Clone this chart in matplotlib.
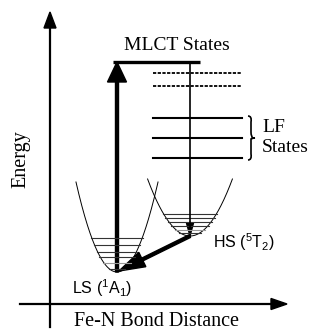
import numpy as np
import matplotlib
matplotlib.use("Agg")
import matplotlib.pyplot as plt
from matplotlib.path import Path
from matplotlib.patches import PathPatch

# everything in pixel coordinates of the 313x330 picture (y grows downwards)
mlct_y = 62
mlct_x = [113, 200]
dashed_y = [73, 86]
lf_y = [118, 138, 158]
state_x = [153, 242]

ls_min = [117, 272]
ls_curv = 0.0535
ls_top = 182
ls_vib = [238, 245, 252, 257, 263, 269]

hs_min = [190, 236]
hs_curv = 0.0317
hs_top = 179
hs_vib = [214, 218, 222, 226, 230, 233]

axis_origin = [50, 304]

fig = plt.figure(figsize=(3.13, 3.30), dpi=100)
ax = fig.add_axes([0, 0, 1, 1])
ax.set_xlim(0, 313)
ax.set_ylim(330, 0)
ax.axis('off')

serif = 'Liberation Serif'
sans = 'Liberation Sans'

# axes of the diagram
ax.plot([axis_origin[0], axis_origin[0]], [327, 26], color='black', lw=1.6)
ax.arrow(axis_origin[0], 28, 0, -16, width=0.1, head_width=12, head_length=16,
         length_includes_head=True, color='black')
ax.plot([20, 273], [axis_origin[1], axis_origin[1]], color='black', lw=1.6)
ax.arrow(271, axis_origin[1], 16, 0, width=0.1, head_width=11, head_length=16,
         length_includes_head=True, color='black')

# MLCT level and ligand field levels
ax.plot(mlct_x, [mlct_y, mlct_y], color='black', lw=2.4, solid_capstyle='butt')
for y in dashed_y:
    ax.plot(state_x, [y, y], color='black', lw=1.3, ls=(0, (1.8, 0.8)))
for y in lf_y:
    ax.plot(state_x, [y, y], color='black', lw=1.5)

# potential wells
def well(vtx, curv, top, vib):
    hw = np.sqrt((vtx[1] - top) / curv)
    xs = np.linspace(vtx[0] - hw, vtx[0] + hw, 200)
    ax.plot(xs, vtx[1] - curv * (xs - vtx[0]) ** 2, color='black', lw=0.7)
    for i, y in enumerate(vib):
        w = np.sqrt((vtx[1] - y) / curv) + 1
        c = '#999999' if i == len(vib) - 2 else '#333333'
        ax.plot([vtx[0] - w, vtx[0] + w], [y, y], color=c, lw=0.8)

well(ls_min, ls_curv, ls_top, ls_vib)
well(hs_min, hs_curv, hs_top, hs_vib)

# excitation arrow
ax.arrow(ls_min[0], ls_min[1], 0, mlct_y - ls_min[1], width=3, head_width=19,
         head_length=20, length_includes_head=True, color='black')
# relaxation to HS
ax.plot([hs_min[0], hs_min[0]], [mlct_y, hs_min[1] - 8], color='black', lw=1.2)
ax.arrow(hs_min[0], hs_min[1] - 14, 0, 14, width=0.1, head_width=7, head_length=13,
         length_includes_head=True, color='black')
# HS -> LS
ax.arrow(hs_min[0], hs_min[1], ls_min[0] + 2 - hs_min[0], ls_min[1] - 1 - hs_min[1],
         width=3, head_width=16, head_length=26, length_includes_head=True,
         color='black')

# brace for LF states
bx, b0, b1 = 250, 116, 160
bm = (b0 + b1) / 2
verts = [(bx - 2, b0), (bx + 2, b0), (bx + 1, b0 + 6), (bx + 1, bm - 6),
         (bx + 1, bm - 1), (bx + 3, bm), (bx + 5, bm),
         (bx + 3, bm), (bx + 1, bm + 1), (bx + 1, bm + 6),
         (bx + 1, b1 - 6), (bx + 2, b1), (bx - 2, b1)]
codes = [Path.MOVETO, Path.CURVE3, Path.CURVE3, Path.LINETO,
         Path.CURVE3, Path.CURVE3, Path.LINETO,
         Path.CURVE3, Path.CURVE3, Path.LINETO,
         Path.LINETO, Path.CURVE3, Path.CURVE3]
ax.add_patch(PathPatch(Path(verts, codes), fill=False, lw=1.2, color='black'))

# labels
ax.text(177, 46, 'MLCT States', family=serif, fontsize=14, ha='center', va='center')
ax.text(262, 128, 'LF', family=serif, fontsize=14, ha='left', va='center')
ax.text(262, 147, 'States', family=serif, fontsize=14, ha='left', va='center')
ax.text(21, 159, 'Energy', family=serif, fontsize=14.5, rotation=90,
        ha='center', va='center')
ax.text(157, 322, 'Fe-N Bond Distance', family=serif, fontsize=14.5,
        ha='center', va='center')
ax.text(72, 288, r'LS ($^{\mathregular{1}}$A$_{\mathregular{1}}$)', family=sans,
        fontsize=11.5, ha='left', va='center')
ax.text(213, 242, r'HS ($^{\mathregular{5}}$T$_{\mathregular{2}}$)', family=sans,
        fontsize=11.5, ha='left', va='center')

fig.savefig('out.png', dpi=100)
